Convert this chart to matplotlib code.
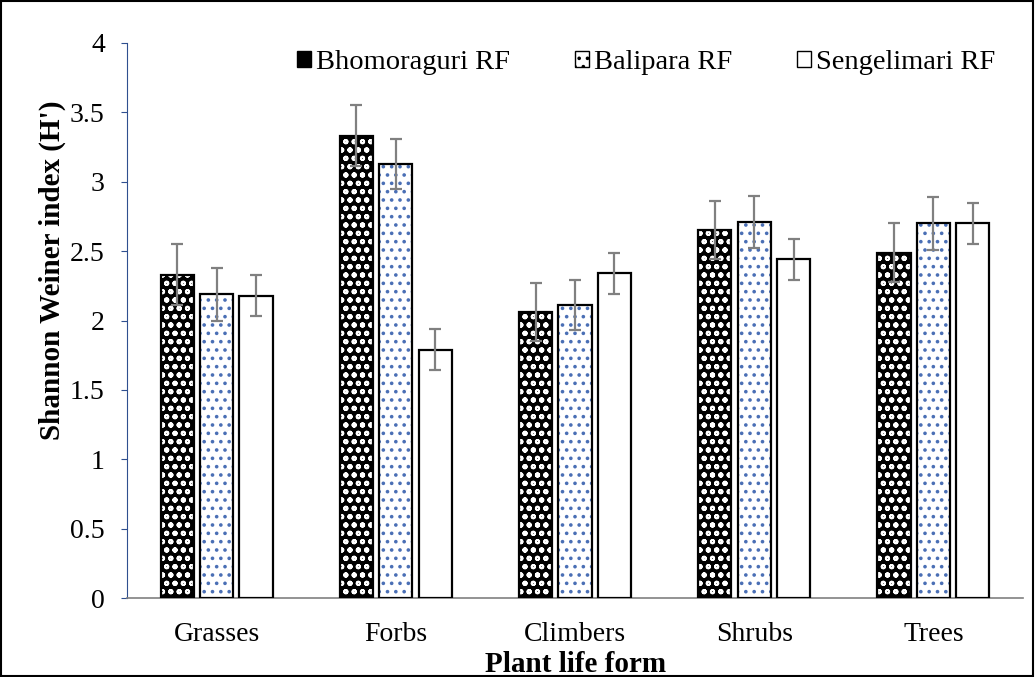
import numpy as np
import matplotlib.pyplot as plt
import matplotlib.patches as mpatches

plt.rcParams['font.family'] = ['Liberation Serif', 'DejaVu Serif']
plt.rcParams['hatch.linewidth'] = 1.4

# data
categories = ['Grasses', 'Forbs', 'Climbers', 'Shrubs', 'Trees']
series = ['Bhomoraguri RF', 'Balipara RF', 'Sengelimari RF']
bhomoraguri = [2.33, 3.33, 2.06, 2.65, 2.49]
balipara = [2.19, 3.13, 2.11, 2.71, 2.70]
sengelimari = [2.18, 1.79, 2.34, 2.44, 2.70]
bhomoraguri_err = [0.22, 0.22, 0.21, 0.21, 0.21]
balipara_err = [0.19, 0.18, 0.18, 0.19, 0.19]
sengelimari_err = [0.15, 0.15, 0.15, 0.15, 0.15]

values = [bhomoraguri, balipara, sengelimari]
errors = [bhomoraguri_err, balipara_err, sengelimari_err]
faces = ['black', 'white', 'white']
hatch_colors = ['white', '#4a6fb5', 'white']
hatches = ['oo', '..', '']

W, H = 1035, 677
fig = plt.figure(figsize=(W / 100, H / 100), dpi=100)
ax = fig.add_axes([127 / W, 1 - 598 / H, 896 / W, 555 / H])

x = np.arange(len(categories))
w = 0.185
step = 0.22
for i in range(3):
    pos = x + (i - 1) * step
    ax.bar(pos, values[i], w, color=faces[i], edgecolor=hatch_colors[i],
           hatch=hatches[i], linewidth=0, zorder=2)
    ax.bar(pos, values[i], w, fill=False, edgecolor='black', linewidth=1.6, zorder=3)
    ax.errorbar(pos, values[i], yerr=errors[i], fmt='none', ecolor='#808080',
                elinewidth=1.6, capsize=4.5, capthick=1.6, zorder=4)

ax.set_ylim(0, 4)
ax.set_xlim(-0.5, 4.5)
ax.set_yticks(np.arange(0, 4.01, 0.5))
ax.set_yticklabels(['0', '0.5', '1', '1.5', '2', '2.5', '3', '3.5', '4'])
ax.set_xticks(x)
ax.set_xticklabels(categories)
ax.tick_params(axis='y', labelsize=20, direction='out', length=4, color='#2f4f8f', pad=12)
ax.tick_params(axis='x', labelsize=20, length=0, pad=17)
ax.spines['top'].set_visible(False)
ax.spines['right'].set_visible(False)
ax.spines['left'].set_color('#2f4f8f')
ax.spines['bottom'].set_color('#808080')
ax.spines['bottom'].set_linewidth(1.2)

ax.set_ylabel("Shannon Weiner index (H')", fontsize=21, fontweight='bold')
ax.yaxis.set_label_coords(-0.068, 0.59)
ax.set_xlabel('Plant life form', fontsize=21, fontweight='bold')
ax.xaxis.set_label_coords(0.501, -0.096)

handles = []
for i in range(3):
    handles.append(mpatches.Patch(facecolor=faces[i], edgecolor='black', linewidth=1.0,
                                  hatch=hatches[i], label=series[i]))
fig.legend(handles=handles, loc='upper left', ncol=3, frameon=False,
           fontsize=20.5, handlelength=0.5, handleheight=0.5, handletextpad=0.15,
           columnspacing=2.3, borderpad=0, borderaxespad=0,
           bbox_to_anchor=(297 / W, 1 - 50 / H))

fig.patches.append(mpatches.Rectangle((0.001, 0.002), 0.997, 0.996, transform=fig.transFigure,
                                      fill=False, edgecolor='black', linewidth=1.5))

fig.savefig('out.png', dpi=100)
